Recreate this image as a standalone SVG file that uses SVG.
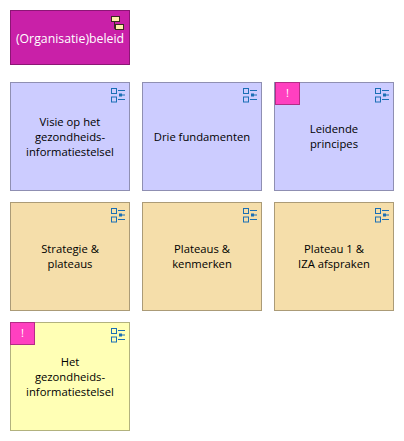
<svg xmlns="http://www.w3.org/2000/svg" width="404" height="441" viewBox="0 0 404 441">
<style>
text{font-family:"Open Sans","Noto Sans","Liberation Sans",sans-serif;font-size:11.25px;fill:#000;text-anchor:middle}
.card{stroke-width:1}
.b{fill:#ccccff;stroke:#8f8fb2}
.o{fill:#f5deaa;stroke:#ab9b77}
.y{fill:#ffffb5;stroke:#b2b27e}
.m{fill:#c920a8;stroke:#8c1675}
.flag{fill:#ff40c0;stroke:#b22d86}
.ic{fill:none;stroke:#1a6fb5;stroke-width:1}
</style>
<defs>
<g id="list" class="ic">
<rect x="0.500" y="0.500" width="5" height="5"/><rect x="0.500" y="9" width="5" height="5"/>
<path d="M7 2.500H14M11 7H14M7 11.500H14"/><rect x="8.500" y="6" width="2" height="2"/>
</g>
<g id="bang"><rect class="flag" x="0.500" y="0.500" width="24" height="22"/><text x="12.500" y="15" style="fill:#fff">!</text></g>
</defs>
<g id="connectors"/>
<g id="beleid"><rect class="card m" x="10.500" y="10.500" width="119" height="54"/>
<g stroke="#3a2a20" stroke-width="1" fill="#ffeeaa"><path d="M114.500 21V28.500H117" fill="none"/><rect x="111.500" y="16.500" width="8" height="5"/><rect x="115.500" y="24.500" width="8" height="5"/></g>
<text x="70" y="43" style="fill:#fff;font-size:12.3px">(Organisatie)beleid</text></g>
<g id="visie"><rect class="card b" x="10.500" y="82.500" width="119" height="108"/><use href="#list" x="111" y="88"/>
<text x="70" y="126">Visie op het</text><text x="70" y="141">gezondheids-</text><text x="70" y="156">informatiestelsel</text></g>
<g id="drie"><rect class="card b" x="142.500" y="82.500" width="119" height="108"/><use href="#list" x="243" y="88"/>
<text x="202" y="141">Drie fundamenten</text></g>
<g id="leidende"><rect class="card b" x="274.500" y="82.500" width="119" height="108"/><use href="#bang" x="275" y="82"/><use href="#list" x="375" y="88"/>
<text x="334" y="133">Leidende</text><text x="334" y="148">principes</text></g>
<g id="strategie"><rect class="card o" x="10.500" y="202.500" width="119" height="108"/><use href="#list" x="111" y="208"/>
<text x="70" y="253">Strategie &amp;</text><text x="70" y="268">plateaus</text></g>
<g id="plateaus"><rect class="card o" x="142.500" y="202.500" width="119" height="108"/><use href="#list" x="243" y="208"/>
<text x="202" y="253">Plateaus &amp;</text><text x="202" y="268">kenmerken</text></g>
<g id="plateau1"><rect class="card o" x="274.500" y="202.500" width="119" height="108"/><use href="#list" x="375" y="208"/>
<text x="334" y="253">Plateau 1 &amp;</text><text x="334" y="268">IZA afspraken</text></g>
<g id="het"><rect class="card y" x="10.500" y="322.500" width="119" height="108"/><use href="#bang" x="10" y="322"/><use href="#list" x="111" y="328"/>
<text x="70" y="366">Het</text><text x="70" y="381">gezondheids-</text><text x="70" y="396">informatiestelsel</text></g>
</svg>
